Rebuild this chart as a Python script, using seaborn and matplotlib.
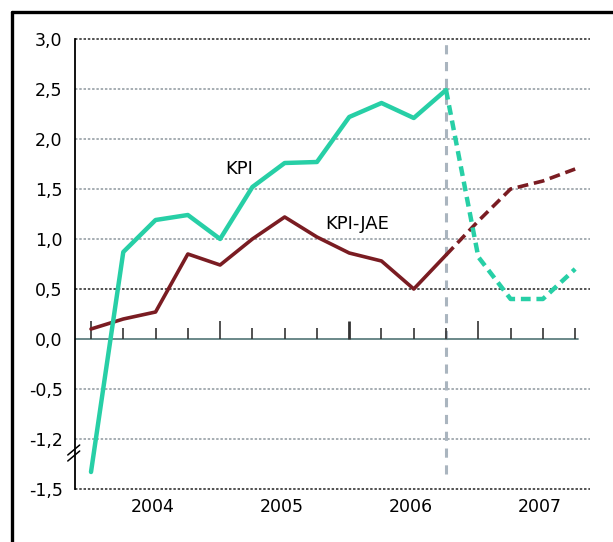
import numpy as np
import pandas as pd
import seaborn as sns
import matplotlib.pyplot as plt
from matplotlib.lines import Line2D

sns.set_style("white")
plt.rcParams['font.family'] = ['DejaVu Sans']
plt.rcParams['text.color'] = 'black'
plt.rcParams['ytick.color'] = 'black'

# quarterly points, 2003Q4 .. 2007Q3 (index 0..15)
quarters = list(range(16))
kpi = [-1.33, 0.87, 1.19, 1.24, 1.00, 1.52, 1.76, 1.77, 2.22, 2.36, 2.21, 2.49,
       0.82, 0.40, 0.40, 0.70]
kpi_jae = [0.10, 0.20, 0.27, 0.85, 0.74, 1.00, 1.22, 1.02, 0.86, 0.78, 0.50, 0.84,
           1.18, 1.50, 1.58, 1.70]
split = 11  # last actual value, forecast afterwards

year_labels = ['2004', '2005', '2006', '2007']
year_pos = [1.9, 5.9, 9.9, 13.9]
ytick_pos = [-1.5, -1.0, -0.5, 0.0, 0.5, 1.0, 1.5, 2.0, 2.5, 3.0]
ytick_labels = ['-1,5', '-1,2', '-0,5', '0,0', '0,5', '1,0', '1,5', '2,0', '2,5', '3,0']

teal = '#27cfa6'
red = '#7a1c22'

df = pd.DataFrame({'q': quarters, 'KPI': kpi, 'KPI-JAE': kpi_jae})
actual = df[df.q <= split]
forecast = df[df.q >= split]

fig = plt.figure(figsize=(6.13, 5.42), dpi=100)
ax = fig.add_axes([75 / 613, 48 / 542, 515 / 613, 460 / 542])
ax.set_xlim(-0.496, 15.46)
ax.set_ylim(-1.55, 3.05)

# gridlines
dark = [3.0, 0.5, -1.5]
for y in ytick_pos:
    if y == 0.0:
        continue
    c = '#222222' if y in dark else '#8e979e'
    ax.plot([-0.496, 15.46], [y, y], color=c, lw=1.1, ls=(0, (1.6, 1.2)),
            clip_on=False, zorder=1)

# zero line and quarter ticks
ax.plot([-0.496, 15.1], [0, 0], color='#5f7f80', lw=1.3, zorder=2)
for q in quarters:
    tall = q % 4 == 0
    ax.vlines(q, 0, 0.18 if tall else 0.11, color='#333333',
              lw=2.0 if q == 8 else 1.2, zorder=2)

# forecast divider
ax.vlines(split, -1.35, 3.0, color='#aab5bf', lw=2.2, linestyles=(0, (3, 2.5)), zorder=1)

sns.lineplot(data=actual, x='q', y='KPI', ax=ax, color=teal, lw=3.2, zorder=4)
sns.lineplot(data=forecast, x='q', y='KPI', ax=ax, color=teal, lw=3.2, zorder=4,
             dashes=False, linestyle=(0, (2.2, 1.3)))
sns.lineplot(data=actual, x='q', y='KPI-JAE', ax=ax, color=red, lw=2.6, zorder=3)
sns.lineplot(data=forecast, x='q', y='KPI-JAE', ax=ax, color=red, lw=2.6, zorder=3,
             dashes=False, linestyle=(0, (3, 1.6)))

ax.text(4.59, 1.70, 'KPI', fontsize=13, ha='center', va='center')
ax.text(8.24, 1.15, 'KPI-JAE', fontsize=13, ha='center', va='center')

# axes
for s in ['top', 'right', 'bottom']:
    ax.spines[s].set_visible(False)
ax.spines['left'].set_bounds(-1.5, 3.0)
ax.spines['left'].set_color('black')
ax.spines['left'].set_linewidth(1.3)
ax.set_yticks(ytick_pos)
ax.set_yticklabels(ytick_labels, fontsize=12.5)
ax.tick_params(axis='y', length=0, pad=9)
ax.set_xticks([])
ax.set_xlabel('')
ax.set_ylabel('')
for x, lab in zip(year_pos, year_labels):
    ax.text(x, -1.68, lab, fontsize=12.5, ha='center', va='center')

# axis break marks
for dy in (0.0, 0.06):
    ax.plot([-0.72, -0.35], [-1.22 + dy, -1.12 + dy], color='black', lw=1.1,
            clip_on=False, zorder=5)

# frame (left and top)
fig.add_artist(Line2D([12 / 613, 12 / 613], [0, 530 / 542], color='black', lw=2.4))
fig.add_artist(Line2D([12 / 613, 1], [530 / 542, 530 / 542], color='black', lw=2.4))

fig.savefig('out.png', dpi=100)
